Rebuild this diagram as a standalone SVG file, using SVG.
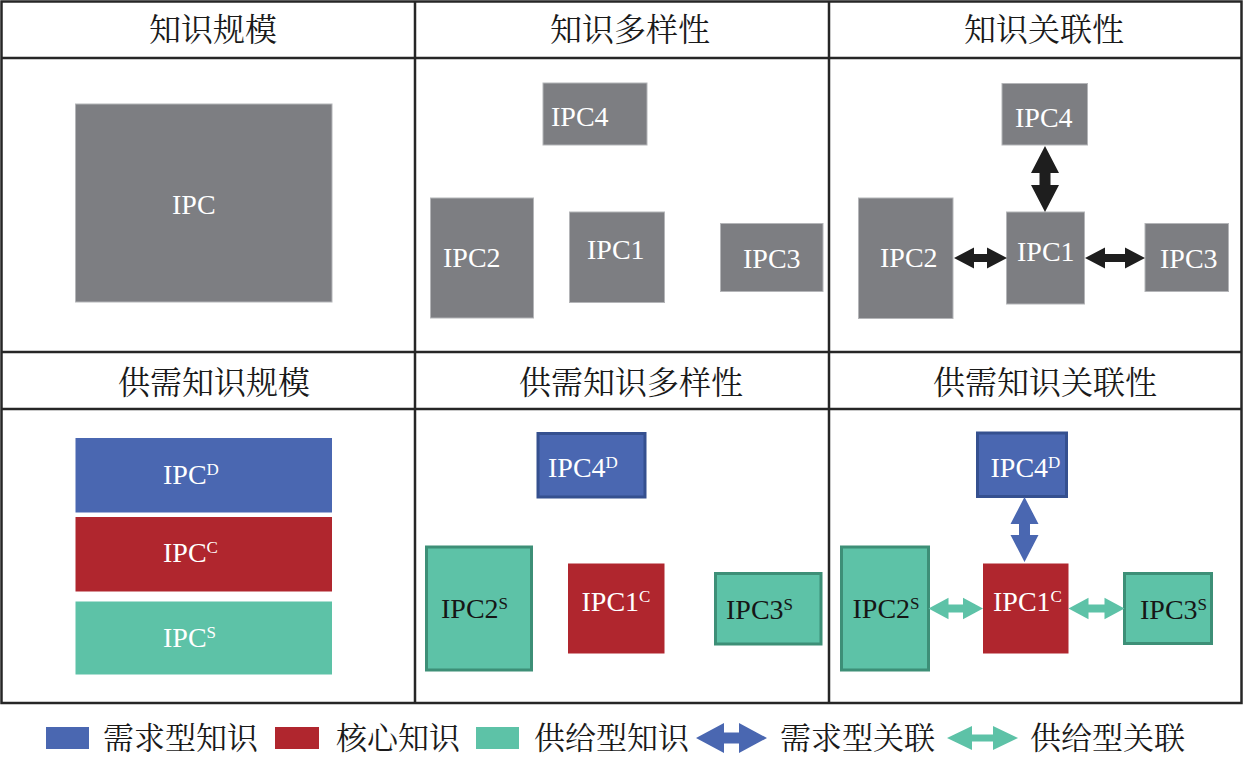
<svg xmlns="http://www.w3.org/2000/svg" width="1245" height="757" viewBox="0 0 1245 757">
<style>
.grid{stroke:#262626;stroke-width:2.5;fill:none}
.hd{font-family:"Liberation Serif","Noto Serif CJK SC","Noto Sans CJK SC",serif;font-size:32px;fill:#1a1a1a;text-anchor:middle}
.lg{font-family:"Liberation Serif","Noto Serif CJK SC","Noto Sans CJK SC",serif;font-size:31px;fill:#1a1a1a}
.lb{font-family:"Liberation Serif","Times New Roman","DejaVu Serif",serif;font-size:28px}
.w{fill:#ffffff}
.k{fill:#161616}
.sup{font-size:17px}
.gray{fill:#7d7e82;stroke:#b4b5b8;stroke-width:1}
.blue{fill:#4a67b1}
.red{fill:#b0262e}
.green{fill:#5dc2a7}
.blueS{fill:#4a67b1;stroke:#35508f;stroke-width:3}
.greenS{fill:#5dc2a7;stroke:#3d8f77;stroke-width:3}
.ab{fill:#1e1e1e}
.abl{fill:#4a67b1}
.agr{fill:#5dc2a7}
</style>
<rect x="0" y="0" width="1245" height="757" fill="#ffffff"/>
<g id="grid">
<rect class="grid" x="1.5" y="1.5" width="1240" height="701.5"/>
<line class="grid" x1="1.5" y1="58" x2="1241.5" y2="58"/>
<line class="grid" x1="1.5" y1="352" x2="1241.5" y2="352"/>
<line class="grid" x1="1.5" y1="409" x2="1241.5" y2="409"/>
<line class="grid" x1="415" y1="1.5" x2="415" y2="703"/>
<line class="grid" x1="829" y1="1.5" x2="829" y2="703"/>
</g>
<g id="headers">
<text class="hd" x="213" y="41">知识规模</text>
<text class="hd" x="630" y="41">知识多样性</text>
<text class="hd" x="1044" y="41">知识关联性</text>
<text class="hd" x="214" y="394">供需知识规模</text>
<text class="hd" x="631" y="394">供需知识多样性</text>
<text class="hd" x="1045" y="394">供需知识关联性</text>
</g>
<g id="p1-ipc"><rect class="gray" x="75.5" y="104" width="256.5" height="198"/><text class="lb w" x="172" y="214">IPC</text></g>
<g id="p2-ipc4"><rect class="gray" x="543" y="83" width="104" height="62"/><text class="lb w" x="551" y="126">IPC4</text></g>
<g id="p2-ipc2"><rect class="gray" x="430.5" y="198" width="103" height="120"/><text class="lb w" x="443" y="267">IPC2</text></g>
<g id="p2-ipc1"><rect class="gray" x="569.5" y="212" width="95" height="90.5"/><text class="lb w" x="587" y="259">IPC1</text></g>
<g id="p2-ipc3"><rect class="gray" x="720.5" y="223.5" width="102.5" height="68"/><text class="lb w" x="743" y="268">IPC3</text></g>
<g id="p3-ipc4"><rect class="gray" x="1002" y="83.5" width="85.5" height="61.5"/><text class="lb w" x="1015" y="127">IPC4</text></g>
<g id="p3-ipc1"><rect class="gray" x="1006.5" y="212" width="78" height="92"/><text class="lb w" x="1017" y="261">IPC1</text></g>
<g id="p3-ipc2"><rect class="gray" x="858.5" y="198" width="94.5" height="120.5"/><text class="lb w" x="880" y="267">IPC2</text></g>
<g id="p3-ipc3"><rect class="gray" x="1145" y="223.5" width="83.5" height="68"/><text class="lb w" x="1160" y="268">IPC3</text></g>
<g id="p4-ipcD"><rect class="blue" x="75.5" y="438" width="256.5" height="74.5"/><text class="lb w" x="163" y="484">IPC<tspan class="sup" dy="-9">D</tspan></text></g>
<g id="p4-ipcC"><rect class="red" x="75.5" y="517" width="256.5" height="74.5"/><text class="lb w" x="163" y="562">IPC<tspan class="sup" dy="-9">C</tspan></text></g>
<g id="p4-ipcS"><rect class="green" x="75.5" y="601.5" width="256.5" height="73"/><text class="lb w" x="163" y="647">IPC<tspan class="sup" dy="-9">S</tspan></text></g>
<g id="p5-ipc4D"><rect class="blueS" x="538" y="433.5" width="107" height="63.5"/><text class="lb w" x="548" y="477">IPC4<tspan class="sup" dy="-9">D</tspan></text></g>
<g id="p5-ipc2S"><rect class="greenS" x="426.5" y="547" width="105" height="123"/><text class="lb k" x="441" y="618">IPC2<tspan class="sup" dy="-9">S</tspan></text></g>
<g id="p5-ipc1C"><rect class="red" x="568" y="563.5" width="96.5" height="90"/><text class="lb w" x="581.5" y="611">IPC1<tspan class="sup" dy="-9">C</tspan></text></g>
<g id="p5-ipc3S"><rect class="greenS" x="715.5" y="573.5" width="105.5" height="70.5"/><text class="lb k" x="726" y="619">IPC3<tspan class="sup" dy="-9">S</tspan></text></g>
<g id="p6-ipc4D"><rect class="blueS" x="977.5" y="433" width="89" height="63.5"/><text class="lb w" x="990.5" y="477">IPC4<tspan class="sup" dy="-9">D</tspan></text></g>
<g id="p6-ipc1C"><rect class="red" x="983" y="563.5" width="85.5" height="90"/><text class="lb w" x="993" y="611">IPC1<tspan class="sup" dy="-9">C</tspan></text></g>
<g id="p6-ipc2S"><rect class="greenS" x="841.5" y="547" width="87" height="123"/><text class="lb k" x="852.5" y="618">IPC2<tspan class="sup" dy="-9">S</tspan></text></g>
<g id="p6-ipc3S"><rect class="greenS" x="1124.5" y="573.5" width="87" height="70"/><text class="lb k" x="1140" y="619">IPC3<tspan class="sup" dy="-9">S</tspan></text></g>
<g id="connectors">
<polygon class="ab" points="1045,146 1059,173 1050.5,173 1050.5,185 1059,185 1045,212 1031,185 1039.5,185 1039.5,173 1031,173"/>
<polygon class="ab" points="954,258 974,247.5 974,254 987,254 987,247.5 1007,258 987,268.5 987,262 974,262 974,268.5"/>
<polygon class="ab" points="1085,258 1105,247.5 1105,254 1125,254 1125,247.5 1145,258 1125,268.5 1125,262 1105,262 1105,268.5"/>
<polygon class="abl" points="1024.5,497 1038.5,524 1030,524 1030,535 1038.5,535 1024.5,562 1010.5,535 1019,535 1019,524 1010.5,524"/>
<polygon class="agr" points="928.5,608.5 948.5,597.7 948.5,604.5 963,604.5 963,597.7 983,608.5 963,619.3 963,612.5 948.5,612.5 948.5,619.3"/>
<polygon class="agr" points="1068.5,608.5 1088.5,597.7 1088.5,604.5 1104.5,604.5 1104.5,597.7 1124.5,608.5 1104.5,619.3 1104.5,612.5 1088.5,612.5 1088.5,619.3"/>
</g>
<g id="legend">
<rect class="blue" x="46" y="727" width="43" height="22"/>
<text class="lg" x="103" y="749">需求型知识</text>
<rect class="red" x="275" y="727" width="44" height="22"/>
<text class="lg" x="336" y="749">核心知识</text>
<rect class="green" x="476" y="727" width="43" height="22"/>
<text class="lg" x="534" y="749">供给型知识</text>
<polygon class="abl" points="696,738 724,723 724,732.5 739,732.5 739,723 767,738 739,753 739,743.5 724,743.5 724,753"/>
<text class="lg" x="780" y="749">需求型关联</text>
<polygon class="agr" points="947,738 972,726 972,734.5 993,734.5 993,726 1018,738 993,750 993,741.5 972,741.5 972,750"/>
<text class="lg" x="1030" y="749">供给型关联</text>
</g>
</svg>
